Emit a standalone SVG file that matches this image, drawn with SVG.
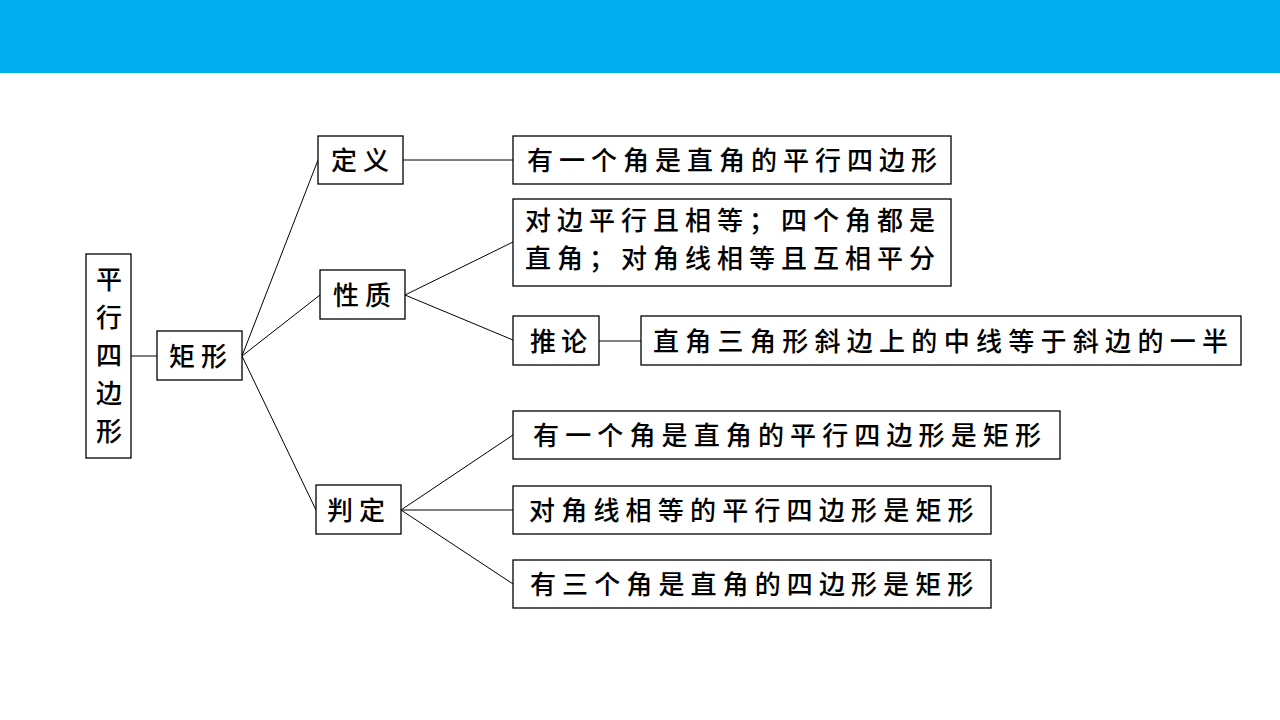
<svg xmlns="http://www.w3.org/2000/svg" width="1280" height="720" viewBox="0 0 1280 720">
<style>
.box{fill:#fff;stroke:#000;stroke-width:1.3}
.t{font-family:"Noto Sans CJK SC","Noto Sans CJK TC",sans-serif;font-size:26px;fill:#000;font-weight:500}
.ln{stroke:#000;stroke-width:1;fill:none}
</style>
<rect x="0" y="0" width="1280" height="720" fill="#fff"/>
<rect x="0" y="0" width="1280" height="73" fill="#00AEEF"/>
<g id="connectors">
<line class="ln" x1="131" y1="356" x2="157" y2="356"/>
<line class="ln" x1="242" y1="356" x2="318" y2="160"/>
<line class="ln" x1="242" y1="356" x2="320" y2="295"/>
<line class="ln" x1="242" y1="356" x2="316" y2="510"/>
<line class="ln" x1="403" y1="160" x2="513" y2="160"/>
<line class="ln" x1="405" y1="295" x2="513" y2="242"/>
<line class="ln" x1="405" y1="295" x2="513" y2="340"/>
<line class="ln" x1="599" y1="341" x2="641" y2="341"/>
<line class="ln" x1="401" y1="510" x2="513" y2="435"/>
<line class="ln" x1="401" y1="510" x2="513" y2="510"/>
<line class="ln" x1="401" y1="510" x2="513" y2="584"/>
</g>
<g id="n-pxsbx">
<rect class="box" x="86" y="254" width="45" height="204"/>
<text class="t" text-anchor="middle" x="109" y="289">平</text>
<text class="t" text-anchor="middle" x="109" y="327">行</text>
<text class="t" text-anchor="middle" x="109" y="365">四</text>
<text class="t" text-anchor="middle" x="109" y="403">边</text>
<text class="t" text-anchor="middle" x="109" y="441">形</text>
</g>
<g id="n-jx">
<rect class="box" x="157" y="331" width="85" height="49"/>
<text class="t" x="169" y="366" letter-spacing="6">矩形</text>
</g>
<g id="n-dy">
<rect class="box" x="318" y="136" width="85" height="48"/>
<text class="t" x="331" y="170" letter-spacing="6">定义</text>
</g>
<g id="n-xz">
<rect class="box" x="320" y="270" width="85" height="49"/>
<text class="t" x="333" y="305" letter-spacing="6">性质</text>
</g>
<g id="n-pd">
<rect class="box" x="316" y="485" width="85" height="49"/>
<text class="t" x="327" y="520" letter-spacing="6">判定</text>
</g>
<g id="n-def">
<rect class="box" x="513" y="136" width="438" height="48"/>
<text class="t" x="527" y="170" letter-spacing="6">有一个角是直角的平行四边形</text>
</g>
<g id="n-prop">
<rect class="box" x="513" y="199" width="438" height="87"/>
<text class="t" x="525" y="230" letter-spacing="6">对边平行且相等；四个角都是</text>
<text class="t" x="525" y="268" letter-spacing="6">直角；对角线相等且互相平分</text>
</g>
<g id="n-tl">
<rect class="box" x="513" y="316" width="86" height="49"/>
<text class="t" x="530" y="351" letter-spacing="5">推论</text>
</g>
<g id="n-tl2">
<rect class="box" x="641" y="316" width="600" height="49"/>
<text class="t" x="653" y="351" textLength="575" lengthAdjust="spacing">直角三角形斜边上的中线等于斜边的一半</text>
</g>
<g id="n-pd1">
<rect class="box" x="513" y="411" width="547" height="48"/>
<text class="t" x="533" y="445" textLength="508" lengthAdjust="spacing">有一个角是直角的平行四边形是矩形</text>
</g>
<g id="n-pd2">
<rect class="box" x="513" y="486" width="478" height="48"/>
<text class="t" x="529" y="520" letter-spacing="6.2">对角线相等的平行四边形是矩形</text>
</g>
<g id="n-pd3">
<rect class="box" x="513" y="560" width="478" height="48"/>
<text class="t" x="530" y="594" letter-spacing="6.1">有三个角是直角的四边形是矩形</text>
</g>
</svg>
